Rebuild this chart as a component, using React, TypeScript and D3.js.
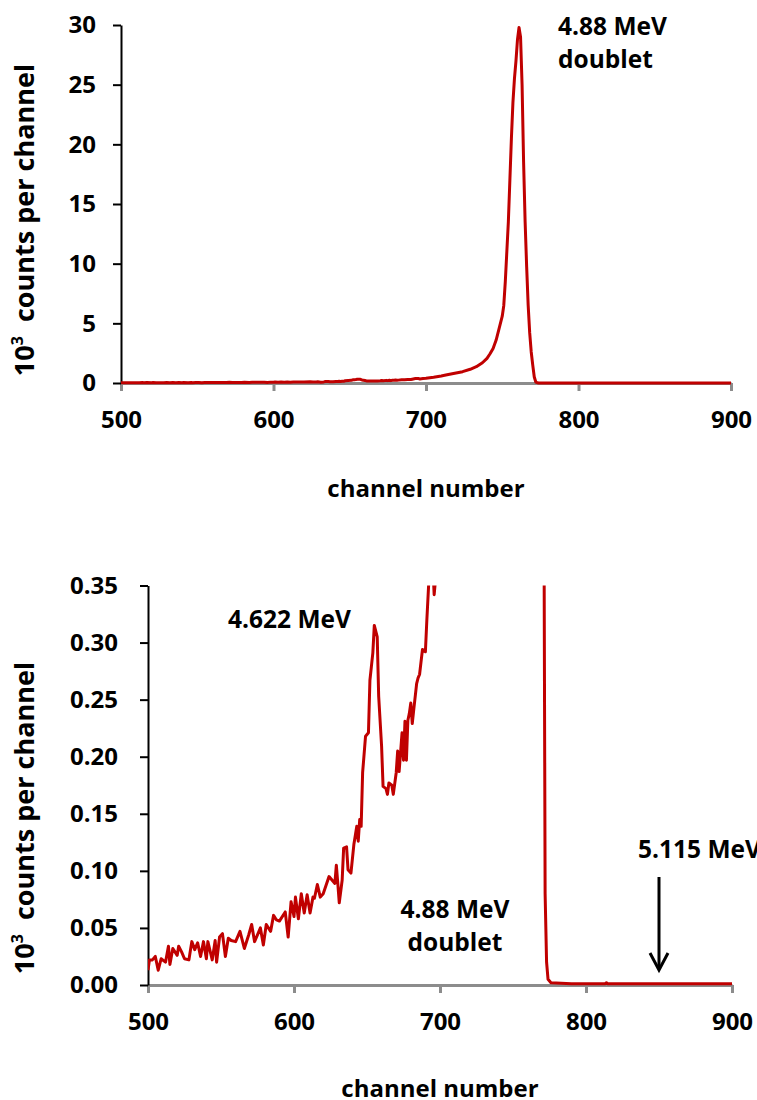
import React, { useRef, useEffect } from 'react';
import * as d3 from 'd3';

// Alpha spectrum: counts per channel (in 10^3)
const channels = [
  500, 501, 503, 505, 507, 509, 512, 514, 515, 517, 520, 521, 523, 525, 528, 530, 532, 534, 536, 538,
  540, 541, 544, 546, 547, 549, 551, 553, 555, 557, 560, 563, 566, 569, 571, 573, 577, 579, 581, 584,
  586, 588, 590, 594, 596, 598, 600, 601, 603, 605, 607, 609, 611, 613, 614, 616, 618, 620, 624, 626,
  628, 629, 630, 631, 633, 634, 636, 637, 639, 641, 642, 643, 644, 645, 646, 647, 649, 651, 652, 653,
  654, 655, 657, 658, 660, 661, 663, 664, 665, 667, 668, 670, 671, 672, 674, 675, 676, 677, 678, 679,
  680, 681, 682, 684, 685, 686, 688, 690, 691, 693, 695, 696, 698, 700, 705, 710, 713, 718, 724, 729,
  733, 737, 740, 742, 744, 746, 748, 750, 751, 752, 753, 754, 755, 756, 757, 758, 759, 760, 761, 762,
  763, 764, 765, 766, 767, 768, 769, 770, 771, 772, 773, 774, 776, 790, 813, 814, 815, 850, 900,
];
const counts = [
  0.013, 0.022, 0.022, 0.025, 0.013, 0.023, 0.020, 0.034, 0.018, 0.032, 0.026, 0.034, 0.029, 0.023, 0.022, 0.038, 0.031, 0.037, 0.025, 0.038,
  0.023, 0.038, 0.022, 0.039, 0.020, 0.042, 0.045, 0.025, 0.041, 0.039, 0.038, 0.047, 0.032, 0.044, 0.053, 0.038, 0.050, 0.035, 0.053, 0.047,
  0.061, 0.057, 0.056, 0.064, 0.042, 0.073, 0.060, 0.077, 0.058, 0.080, 0.063, 0.079, 0.063, 0.077, 0.076, 0.088, 0.077, 0.080, 0.095, 0.092,
  0.089, 0.105, 0.089, 0.072, 0.092, 0.120, 0.121, 0.101, 0.098, 0.123, 0.131, 0.139, 0.126, 0.145, 0.139, 0.186, 0.218, 0.221, 0.267, 0.279,
  0.291, 0.315, 0.305, 0.253, 0.209, 0.174, 0.172, 0.167, 0.177, 0.175, 0.167, 0.186, 0.205, 0.187, 0.221, 0.197, 0.231, 0.197, 0.232, 0.238,
  0.247, 0.229, 0.241, 0.264, 0.269, 0.272, 0.294, 0.292, 0.320, 0.370, 0.370, 0.342, 0.370, 0.39, 0.48, 0.59, 0.67, 0.80, 0.95, 1.15,
  1.37, 1.70, 2.07, 2.45, 2.90, 3.60, 4.60, 5.60, 6.50, 8.50, 11.0, 13.5, 17.0, 20.5, 23.5, 25.5, 27.0, 28.8, 29.8, 29.0,
  25.0, 18.5, 13.5, 9.75, 6.5, 4.2, 2.6, 1.5, 0.5, 0.08, 0.02, 0.005, 0.002, 0.001, 0.001, 0.002, 0.001, 0.001, 0.001,
];

const xTicks = [500, 600, 700, 800, 900];
const topYTicks = [0, 5, 10, 15, 20, 25, 30];
const bottomYTicks = [0, 0.05, 0.1, 0.15, 0.2, 0.25, 0.3, 0.35];
const xDomain = [500, 900];
const topYDomain = [0, 30];
const bottomYDomain = [0, 0.35];
const arrowChannel = 850;

const xTitle = 'channel number';
const yTitleBase = '10';
const yTitleSup = '3';
const yTitleRest = '\u00A0 counts per channel';

const FONT = "'Open Sans', 'DejaVu Sans', sans-serif";
const RED = '#C00000';
const GRAY = '#8C8C8C';

export default function App() {
  const ref = useRef<SVGSVGElement>(null);

  useEffect(() => {
    const svg = d3.select(ref.current);
    svg.selectAll('*').remove();
    const data = channels.map((c, i) => ({ c, v: counts[i] }));

    const panels = [
      {
        x0: 121, x1: 731, y0: 383, y1: 25, yDomain: topYDomain, yTicks: topYTicks,
        fmt: d3.format('d'), yPad: 17, xTitleY: 497, yTitleY: 220, clip: false,
      },
      {
        x0: 148, x1: 732, y0: 985, y1: 585.5, yDomain: bottomYDomain, yTicks: bottomYTicks,
        fmt: d3.format('.2f'), yPad: 22, xTitleY: 1097, yTitleY: 818, clip: true,
      },
    ];

    const defs = svg.append('defs');

    panels.forEach((p, idx) => {
      const x = d3.scaleLinear().domain(xDomain).range([p.x0, p.x1]);
      const y = d3.scaleLinear().domain(p.yDomain).range([p.y0, p.y1]);
      const g = svg.append('g');

      // x axis (gray)
      const xa = g.append('g').attr('transform', `translate(0,${p.y0})`)
        .call(d3.axisBottom(x).tickValues(xTicks).tickSize(8).tickSizeOuter(0).tickPadding(20).tickFormat(d3.format('d')));
      xa.select('.domain').attr('stroke', GRAY).attr('stroke-width', 3);
      xa.selectAll('.tick line').attr('stroke', GRAY).attr('stroke-width', 3);
      xa.selectAll('.tick text').attr('fill', '#000').attr('font-family', FONT)
        .attr('font-weight', 700).attr('font-size', 24);

      // y axis (black)
      const ya = g.append('g').attr('transform', `translate(${p.x0},0)`)
        .call(d3.axisLeft(y).tickValues(p.yTicks).tickSize(8).tickSizeOuter(0).tickPadding(p.yPad).tickFormat(p.fmt as any));
      ya.select('.domain').attr('stroke', '#000').attr('stroke-width', 2);
      ya.selectAll('.tick line').attr('stroke', '#000').attr('stroke-width', 2);
      ya.selectAll('.tick text').attr('fill', '#000').attr('font-family', FONT)
        .attr('font-weight', 700).attr('font-size', 24);

      // line
      const line = d3.line<{ c: number; v: number }>().x(d => x(d.c)).y(d => y(d.v));
      const path = g.append('path').datum(data)
        .attr('d', line)
        .attr('fill', 'none')
        .attr('stroke', RED)
        .attr('stroke-width', 3)
        .attr('stroke-linejoin', 'round');
      if (p.clip) {
        const id = `clip${idx}`;
        defs.append('clipPath').attr('id', id).append('rect')
          .attr('x', p.x0).attr('y', p.y1).attr('width', p.x1 - p.x0 + 4).attr('height', p.y0 - p.y1 + 4);
        path.attr('clip-path', `url(#${id})`);
      }

      // axis titles
      g.append('text').attr('x', (p.x0 + p.x1) / 2).attr('y', p.xTitleY)
        .attr('text-anchor', 'middle').attr('font-family', FONT).attr('font-weight', 700)
        .attr('font-size', 24).attr('fill', '#000').text(xTitle);

      const yt = g.append('text').attr('transform', `translate(34,${p.yTitleY}) rotate(-90)`)
        .attr('text-anchor', 'middle').attr('font-family', FONT).attr('font-weight', 700)
        .attr('font-size', 27).attr('fill', '#000');
      yt.append('tspan').text(yTitleBase);
      yt.append('tspan').attr('dy', -11).attr('font-size', 16).text(yTitleSup);
      yt.append('tspan').attr('dy', 11).text(yTitleRest);

      const ann = (t: string, ax: number, ay: number, anchor = 'start') =>
        g.append('text').attr('x', ax).attr('y', ay).attr('text-anchor', anchor)
          .attr('font-family', FONT).attr('font-weight', 700).attr('font-size', 24.5)
          .attr('fill', '#000').text(t);

      if (idx === 0) {
        ann('4.88 MeV', 558, 35);
        ann('doublet', 558, 68);
      } else {
        ann('4.622 MeV', 228, 628);
        ann('4.88 MeV', 455, 918, 'middle');
        ann('doublet', 455, 951, 'middle');
        ann('5.115 MeV', 638, 858);
        const ax = x(arrowChannel);
        g.append('line').attr('x1', ax).attr('x2', ax).attr('y1', 877).attr('y2', 969)
          .attr('stroke', '#000').attr('stroke-width', 3);
        g.append('path').attr('d', `M${ax - 9},${953} L${ax},${970} L${ax + 9},${953}`)
          .attr('fill', 'none').attr('stroke', '#000').attr('stroke-width', 3);
      }
    });
  }, []);

  return (
    <svg
      ref={ref}
      width={757}
      height={1100}
      style={{ position: 'absolute', left: 0, top: 0, background: '#fff' }}
    />
  );
}
